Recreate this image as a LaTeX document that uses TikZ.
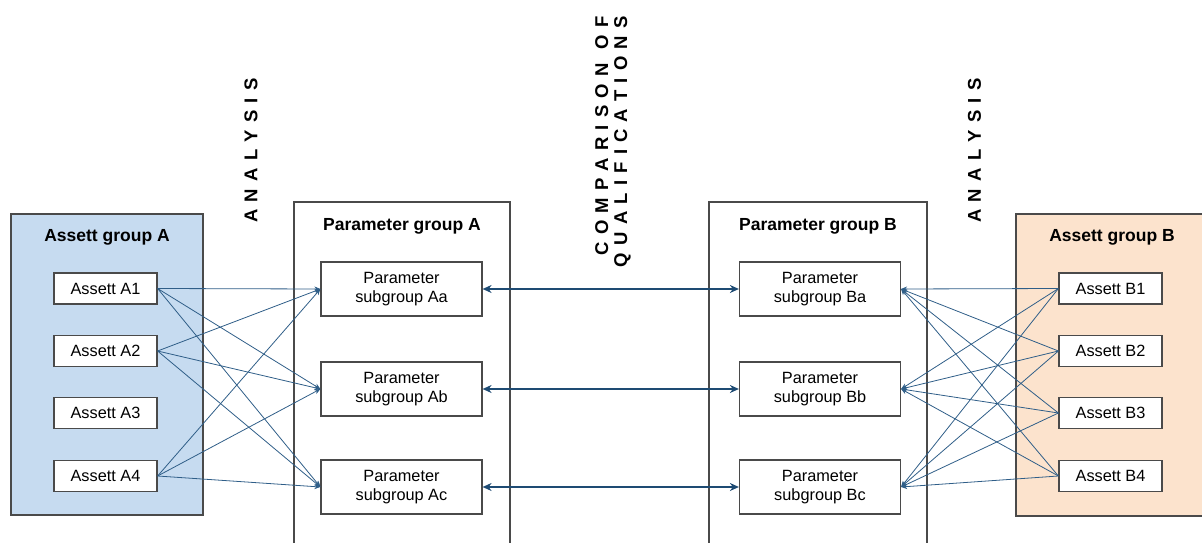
\documentclass[tikz,border=0pt]{standalone}
\usepackage{fontspec}
\setmainfont{Liberation Sans}
\usetikzlibrary{arrows.meta}
\definecolor{grpblue}{HTML}{C6DBF0}
\definecolor{grppeach}{HTML}{FCE3CD}
\definecolor{linkblue}{HTML}{2F5E88}
\definecolor{arrowblue}{HTML}{1E4B73}
\definecolor{edgegray}{HTML}{4A4A4A}
\makeatletter
\def\trk#1{\trk@#1\relax}
\def\trk@#1{\ifx#1\relax\else#1\kern7.2pt\expandafter\trk@\fi}
\makeatother
\begin{document}
\begin{tikzpicture}[x=1pt,y=-1pt,
  assetbox/.style={draw=edgegray, line width=1.2pt, fill=white, inner sep=0pt,
    minimum width=103pt, minimum height=31pt, font=\fontsize{16.3}{18.5}\selectfont},
  subbox/.style={draw=edgegray, line width=1.2pt, fill=white, inner sep=0pt,
    minimum width=161pt, minimum height=54pt, align=center,
    font=\fontsize{16.3}{18.5}\selectfont},
  grptitle/.style={font=\fontsize{17.5}{20}\selectfont\bfseries, anchor=base, inner sep=0pt},
  vlabel/.style={rotate=90, font=\fontsize{18.5}{19}\selectfont\bfseries,
    align=right, inner sep=0pt},
  link/.style={draw=linkblue, line width=0.8pt, -{Stealth[length=6pt,width=5pt]}},
  cmp/.style={draw=arrowblue, line width=1.8pt,
    {Stealth[length=9pt,width=8pt]}-{Stealth[length=9pt,width=8pt]}},
  grpline/.style={draw=edgegray, line width=1.2pt},
]
\useasboundingbox (0,0) rectangle (1202,543);

% group containers
\path[grpline, fill=grpblue] (11,214) rectangle (203,515);
\path[grpline] (294,543) -- (294,202) -- (510,202) -- (510,543);
\path[grpline] (709,543) -- (709,202) -- (927,202) -- (927,543);
\path[fill=grppeach] (1016,214) rectangle (1202,516);
\path[grpline] (1202,214) -- (1016,214) -- (1016,516) -- (1202,516);

% titles
\node[grptitle] (tAG) at (107,241.5) {Assett group A};
\node[grptitle] (tPA) at (402,230) {Parameter group A};
\node[grptitle] (tPB) at (818,230) {Parameter group B};
\node[grptitle] (tBG) at (1112,241.5) {Assett group B};

% rotated labels
\node[vlabel] (an1) at (251,147) {\trk{ANALYSIS}};
\node[vlabel] (an2) at (974.5,147) {\trk{ANALYSIS}};
\node[vlabel] (cmpl) at (613,138) {\trk{COMPARISON}\kern7pt\trk{OF}\\\trk{QUALIFICATIONS}};

% asset boxes
\node[assetbox] (A1) at (105.5,288.5) {Assett A1};
\node[assetbox] (A2) at (105.5,351) {Assett A2};
\node[assetbox] (A3) at (105.5,413) {Assett A3};
\node[assetbox] (A4) at (105.5,476) {Assett A4};
\node[assetbox] (B1) at (1110.5,288.5) {Assett B1};
\node[assetbox] (B2) at (1110.5,351) {Assett B2};
\node[assetbox] (B3) at (1110.5,413) {Assett B3};
\node[assetbox] (B4) at (1110.5,476) {Assett B4};

% parameter subgroups
\node[subbox] (Aa) at (401.5,289) {Parameter\\subgroup Aa};
\node[subbox] (Ab) at (401.5,389) {Parameter\\subgroup Ab};
\node[subbox] (Ac) at (401.5,487) {Parameter\\subgroup Ac};
\node[subbox] (Ba) at (820,289) {Parameter\\subgroup Ba};
\node[subbox] (Bb) at (820,389) {Parameter\\subgroup Bb};
\node[subbox] (Bc) at (820,487) {Parameter\\subgroup Bc};

% links A side
\foreach \s in {A1,A2,A4}{
  \foreach \t in {Aa,Ab,Ac}{
    \draw[link] (\s.east) -- (\t.west);
  }
}
% links B side
\foreach \s in {B1,B2,B3,B4}{
  \foreach \t in {Ba,Bb,Bc}{
    \draw[link] (\s.west) -- (\t.east);
  }
}

% comparison arrows
\draw[cmp] (Aa.east) -- (Ba.west);
\draw[cmp] (Ab.east) -- (Bb.west);
\draw[cmp] (Ac.east) -- (Bc.west);
\end{tikzpicture}
\end{document}
